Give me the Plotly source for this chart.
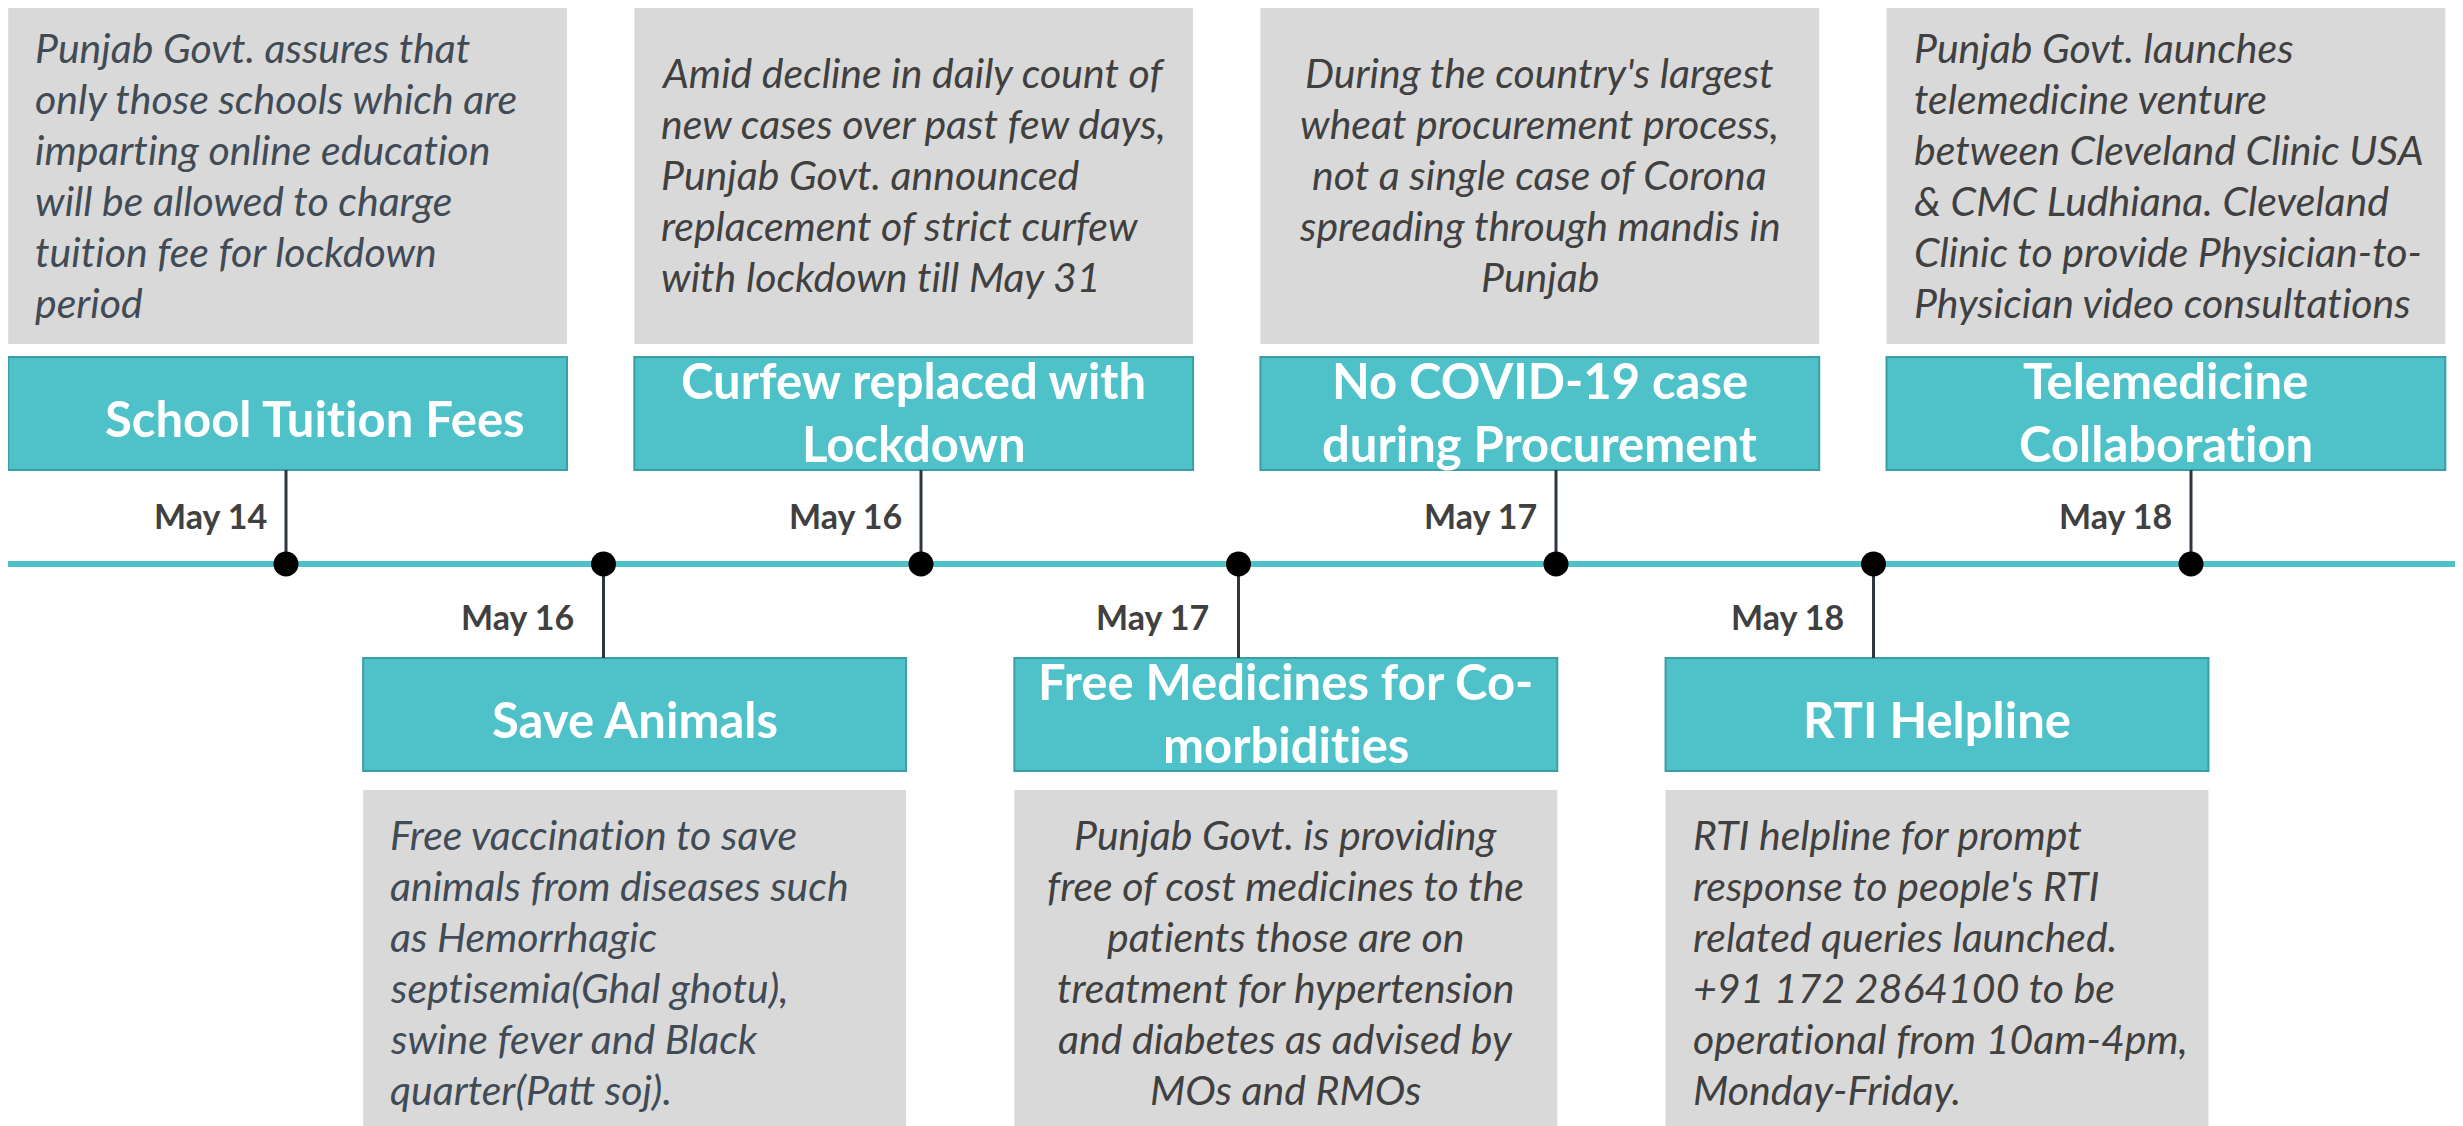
import plotly.graph_objects as go

# timeline events, left to right
dates = ["May 14", "May 16", "May 16", "May 17", "May 17", "May 18", "May 18"]
sides = ["top", "bottom", "top", "bottom", "top", "bottom", "top"]
titles = [
    "School Tuition Fees",
    "Save Animals",
    "Curfew replaced with<br>Lockdown",
    "Free Medicines for Co-<br>morbidities",
    "No COVID-19 case<br>during Procurement",
    "RTI Helpline",
    "Telemedicine<br>Collaboration",
]
details = [
    "Punjab Govt. assures that<br>only those schools which are<br>imparting online education<br>"
    "will be allowed to charge<br>tuition fee for lockdown<br>period",
    "Free vaccination to save<br>animals from diseases such<br>as Hemorrhagic<br>"
    "septisemia(Ghal ghotu),<br>swine fever and Black<br>quarter(Patt soj).",
    "Amid decline in daily count of<br>new cases over past few days,<br>Punjab Govt. announced<br>"
    "replacement of strict curfew<br>with lockdown till May 31",
    "Punjab Govt. is providing<br>free of cost medicines to the<br>patients those are on<br>"
    "treatment for hypertension<br>and diabetes as advised by<br>MOs and RMOs",
    "During the country's largest<br>wheat procurement process,<br>not a single case of Corona<br>"
    "spreading through mandis in<br>Punjab",
    "RTI helpline for prompt<br>response to people's RTI<br>related queries launched.<br>"
    "+91 172 2864100 to be<br>operational from 10am-4pm,<br>Monday-Friday.",
    "Punjab Govt. launches<br>telemedicine venture<br>between Cleveland Clinic USA<br>"
    "& CMC Ludhiana. Cleveland<br>Clinic to provide Physician-to-<br>Physician video consultations",
]
detail_align = ["left", "left", "left", "center", "center", "left", "left"]

# styling
W, H = 2463, 1126
PAGE_OFF = 8   # page body margin in the browser
TEAL = "#4fc1c9"
TEAL_EDGE = "#3b9ea5"
GREY = "#d9d9d9"
STEM = "#2e3640"
FONT = "Lato"
STEP = 317.5   # px per event
X0 = 286       # px of first event
LINE_Y = 564
PAD = 25 / STEP
detail_colors = {0: "#414b56", 1: "#414b56"}
title_shift = {0: 27}

# box centre = a + b * event index, per row
box = {
    "top": dict(a=0.005, b=0.986, half=0.88, grey=(5, 344), teal=(357, 470)),
    "bottom": dict(a=0.0725, b=1.0255, half=0.855, grey=(790, 1160), teal=(658, 771)),
}


def no_liga(s):
    # keep the "ti" pair from turning into a ligature
    return s.replace("ti", "t\u200ci")


fig = go.Figure()
shapes = []
annotations = []

# main timeline
shapes.append(dict(type="line", xref="paper", yref="y", x0=0, x1=1, y0=LINE_Y, y1=LINE_Y,
                   line=dict(color=TEAL, width=6), layer="below"))

for i, (d, side, title, det, align) in enumerate(zip(dates, sides, titles, details, detail_align)):
    b = box[side]
    cx = b["a"] + b["b"] * i
    left, right = cx - b["half"], cx + b["half"]
    g0, g1 = b["grey"]
    t0, t1 = b["teal"]

    shapes.append(dict(type="rect", x0=left, x1=right, y0=g0, y1=g1,
                       fillcolor=GREY, line=dict(width=0), layer="below"))
    shapes.append(dict(type="rect", x0=left, x1=right, y0=t0, y1=t1,
                       fillcolor=TEAL, line=dict(color=TEAL_EDGE, width=2), layer="below"))

    # stem from box to the timeline
    sy = t1 if side == "top" else t0
    shapes.append(dict(type="line", x0=i, x1=i, y0=sy, y1=LINE_Y,
                       line=dict(color=STEM, width=3), layer="below"))

    # title lines
    tl = title.split("<br>")
    tc = (t0 + t1) / 2
    for k, line in enumerate(tl):
        y = tc + 4 if len(tl) == 1 else tc + (k - 0.5) * 63 - 2
        annotations.append(dict(x=cx, y=y, xshift=title_shift.get(i, 0), text=no_liga(line), showarrow=False,
                                xanchor="center", yanchor="middle",
                                font=dict(family=FONT, size=49, color="white", weight="bold")))

    # detail lines
    dl = det.split("<br>")
    if side == "top":
        gc = (g0 + g1) / 2
        ys = [gc + (k - (len(dl) - 1) / 2) * 51 for k in range(len(dl))]
    else:
        ys = [834 + k * 51 for k in range(len(dl))]
    for line, y in zip(dl, ys):
        if align == "left":
            annotations.append(dict(x=left + PAD, y=y, xanchor="left", yanchor="middle", text=no_liga(line),
                                    showarrow=False,
                                    font=dict(family=FONT, size=41, style="italic",
                                              color=detail_colors.get(i, "#404040"))))
        else:
            annotations.append(dict(x=cx, y=y, xanchor="center", yanchor="middle", text=no_liga(line),
                                    showarrow=False,
                                    font=dict(family=FONT, size=41, style="italic", color="#404040")))

    # date label
    if side == "top":
        annotations.append(dict(x=i, y=515, xshift=-17, xanchor="right", yanchor="middle", text=d,
                                showarrow=False, font=dict(family=FONT, size=34, color="#404040", weight="bold")))
    else:
        annotations.append(dict(x=i, y=616, xshift=-28, xanchor="right", yanchor="middle", text=d,
                                showarrow=False, font=dict(family=FONT, size=34, color="#404040", weight="bold")))

# dots on the timeline
fig.add_trace(go.Scatter(x=list(range(len(dates))), y=[LINE_Y] * len(dates), mode="markers",
                         marker=dict(color="black", size=25), hoverinfo="text", text=dates))

fig.update_layout(
    width=W, height=H,
    margin=dict(l=0, r=0, t=0, b=0),
    paper_bgcolor="white", plot_bgcolor="white",
    showlegend=False,
    shapes=shapes, annotations=annotations,
    xaxis=dict(range=[(PAGE_OFF - X0) / STEP, (W + PAGE_OFF - X0) / STEP], visible=False, fixedrange=True),
    yaxis=dict(range=[H + PAGE_OFF, PAGE_OFF], visible=False, fixedrange=True),
)

fig.write_html("out.html")
